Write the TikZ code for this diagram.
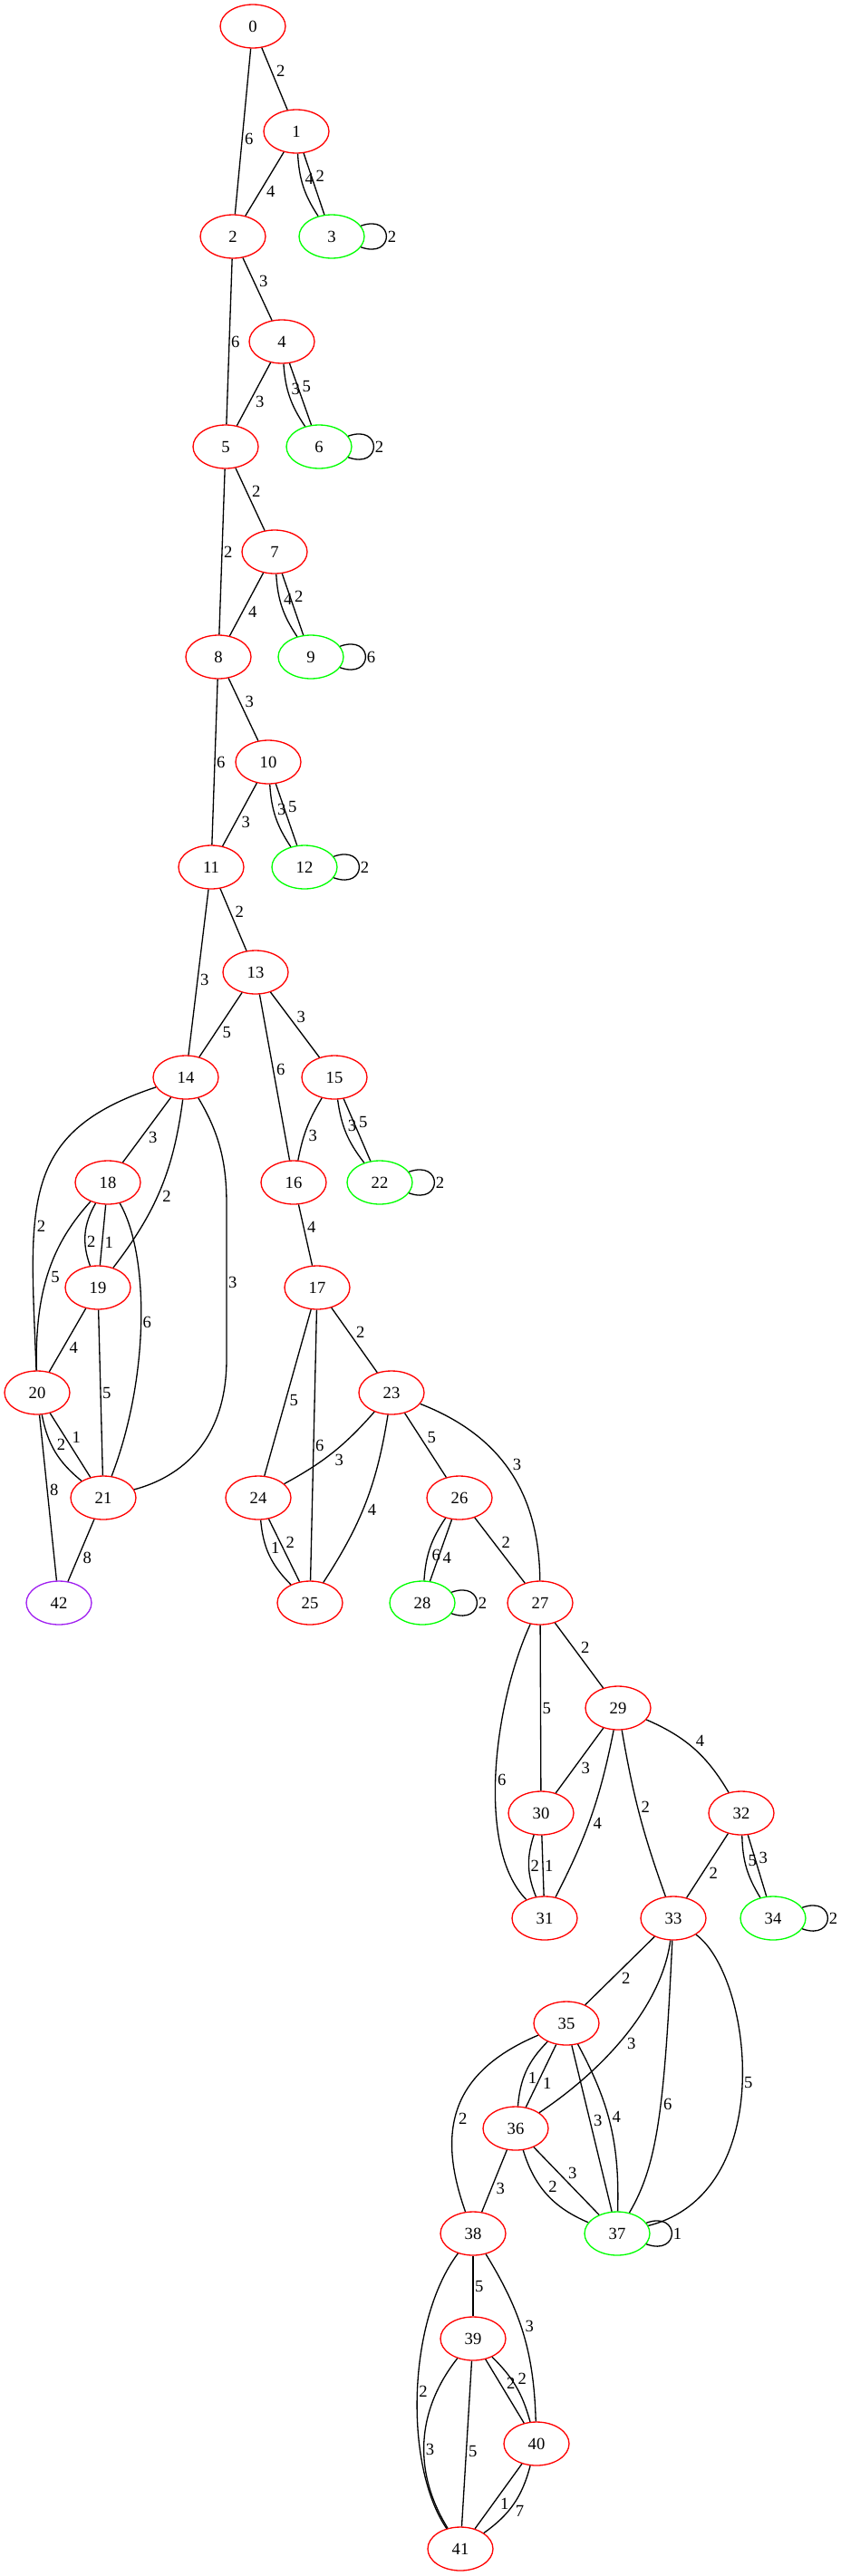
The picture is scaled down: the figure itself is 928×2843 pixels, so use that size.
\documentclass[tikz,border=0pt]{standalone}
\usepackage{fontspec}
\setmainfont{Liberation Serif}
\usetikzlibrary{shapes.geometric}
\definecolor{sinkpurple}{RGB}{160,32,240}

\begin{document}
\begin{tikzpicture}[x=0.02cm,y=-0.02cm,auto,line width=0.75pt,
    font=\fontsize{10.6}{12.7}\selectfont,
    every node/.style={inner sep=0.8pt},
    main node/.style={ellipse,draw,minimum width=1.44cm,minimum height=0.96cm,inner sep=0pt},
    red node/.style={main node,draw=red},
    green node/.style={main node,draw=green},
    sink node/.style={main node,draw=sinkpurple},
    self loop/.style={out=20,in=-20,min distance=8mm},
    loop label/.style={right,inner sep=0.5pt}]
   \useasboundingbox (0,0) rectangle (928,2843);
   % nodes, one rank every 116px
   \node[red node] (n0) at (279,29) {0};
   \node[red node] (n1) at (327,145) {1};
   \node[red node] (n2) at (257,261) {2};
   \node[green node] (n3) at (366,261) {3};
   \node[red node] (n4) at (311,377) {4};
   \node[red node] (n5) at (249,493) {5};
   \node[green node] (n6) at (352,493) {6};
   \node[red node] (n7) at (303,609) {7};
   \node[red node] (n8) at (241,725) {8};
   \node[green node] (n9) at (343,725) {9};
   \node[red node] (n10) at (296,841) {10};
   \node[red node] (n11) at (233,957) {11};
   \node[green node] (n12) at (336,957) {12};
   \node[red node] (n13) at (282,1073) {13};
   \node[red node] (n14) at (205,1189) {14};
   \node[red node] (n15) at (369,1189) {15};
   \node[red node] (n18) at (119,1305) {18};
   \node[red node] (n16) at (324,1305) {16};
   \node[green node] (n22) at (419,1305) {22};
   \node[red node] (n19) at (108,1421) {19};
   \node[red node] (n17) at (350,1421) {17};
   \node[red node] (n20) at (41,1537) {20};
   \node[red node] (n23) at (432,1537) {23};
   \node[red node] (n21) at (114,1653) {21};
   \node[red node] (n24) at (285,1653) {24};
   \node[red node] (n26) at (507,1653) {26};
   \node[sink node] (n42) at (65,1769) {42};
   \node[red node] (n25) at (342,1769) {25};
   \node[green node] (n28) at (466,1769) {28};
   \node[red node] (n27) at (596,1769) {27};
   \node[red node] (n29) at (682,1885) {29};
   \node[red node] (n30) at (597,2001) {30};
   \node[red node] (n32) at (818,2001) {32};
   \node[red node] (n31) at (601,2117) {31};
   \node[red node] (n33) at (743,2117) {33};
   \node[green node] (n34) at (853,2117) {34};
   \node[red node] (n35) at (625,2233) {35};
   \node[red node] (n36) at (569,2349) {36};
   \node[red node] (n38) at (522,2465) {38};
   \node[green node] (n37) at (681,2465) {37};
   \node[red node] (n39) at (522,2581) {39};
   \node[red node] (n40) at (592,2697) {40};
   \node[red node] (n41) at (508,2813) {41};
   % edges
   \draw (n0) -- node {2} (n1);
   \draw (n0) -- node {6} (n2);
   \draw (n1) -- node {4} (n2);
   \draw (n1) to[bend right=15] node {4} (n3);
   \draw (n1) -- node {2} (n3);
   \draw (n3) to[self loop] node[loop label] {2} (n3);
   \draw (n2) -- node {3} (n4);
   \draw (n2) -- node {6} (n5);
   \draw (n4) -- node {3} (n5);
   \draw (n4) to[bend right=15] node {3} (n6);
   \draw (n4) -- node {5} (n6);
   \draw (n6) to[self loop] node[loop label] {2} (n6);
   \draw (n5) -- node {2} (n7);
   \draw (n5) -- node {2} (n8);
   \draw (n7) -- node {4} (n8);
   \draw (n7) to[bend right=15] node {4} (n9);
   \draw (n7) -- node {2} (n9);
   \draw (n9) to[self loop] node[loop label] {6} (n9);
   \draw (n8) -- node {3} (n10);
   \draw (n8) -- node {6} (n11);
   \draw (n10) -- node {3} (n11);
   \draw (n10) to[bend right=15] node {3} (n12);
   \draw (n10) -- node {5} (n12);
   \draw (n12) to[self loop] node[loop label] {2} (n12);
   \draw (n11) -- node {2} (n13);
   \draw (n11) -- node {3} (n14);
   \draw (n13) -- node {5} (n14);
   \draw (n13) -- node {6} (n16);
   \draw (n13) -- node {3} (n15);
   \draw (n15) to[bend right=10] node {3} (n16);
   \draw (n15) to[bend right=15] node {3} (n22);
   \draw (n15) -- node {5} (n22);
   \draw (n22) to[self loop] node[loop label] {2} (n22);
   \draw (n16) -- node {4} (n17);
   % left block
   \draw (n14) -- node {3} (n18);
   \draw (n14) to[bend left=15] node {2} (n19);
   \draw (n14) .. controls (20,1250) and (33,1330) .. node[pos=0.62] {2} (n20);
   \draw (n14) .. controls (245,1255) and (250,1290) .. (250,1330)
      -- node {3} (250,1500) .. controls (250,1590) and (200,1630) .. (n21);
   \draw (n18) to[bend right=25] node {2} (n19);
   \draw (n18) -- node {1} (n19);
   \draw (n18) .. controls (60,1370) and (38,1420) .. node {5} (n20);
   \draw (n18) .. controls (165,1385) and (165,1520) .. node {6} (n21);
   \draw (n19) -- node {4} (n20);
   \draw (n19) -- node {5} (n21);
   \draw (n20) to[bend right=20] node {2} (n21);
   \draw (n20) -- node {1} (n21);
   \draw (n20) -- node {8} (n42);
   \draw (n21) -- node {8} (n42);
   % middle block
   \draw (n17) -- node {5} (n24);
   \draw (n17) -- node {6} (n25);
   \draw (n17) -- node {2} (n23);
   \draw (n23) to[bend left=10] node {3} (n24);
   \draw (n23) to[bend left=12] node {4} (n25);
   \draw (n23) -- node {5} (n26);
   \draw (n23) .. controls (555,1585) and (595,1650) .. node {3} (n27);
   \draw (n24) to[bend right=20] node {1} (n25);
   \draw (n24) -- node {2} (n25);
   \draw (n26) to[bend right=15] node {6} (n28);
   \draw (n26) -- node {4} (n28);
   \draw (n28) to[self loop] node[loop label] {2} (n28);
   \draw (n26) -- node {2} (n27);
   \draw (n27) .. controls (545,1880) and (525,2040) .. node {6} (n31);
   \draw (n27) -- node {5} (n30);
   \draw (n27) -- node {2} (n29);
   \draw (n29) -- node {3} (n30);
   \draw (n29) to[bend left=8] node {4} (n31);
   \draw (n29) to[bend right=5] node {2} (n33);
   \draw (n29) to[bend left=18] node {4} (n32);
   \draw (n30) to[bend right=20] node {2} (n31);
   \draw (n30) -- node {1} (n31);
   \draw (n32) -- node {2} (n33);
   \draw (n32) to[bend right=15] node {5} (n34);
   \draw (n32) -- node {3} (n34);
   \draw (n34) to[self loop] node[loop label] {2} (n34);
   % bottom block
   \draw (n33) -- node {2} (n35);
   \draw (n33) .. controls (730,2215) and (665,2285) .. node {3} (n36);
   \draw (n33) .. controls (733,2330) and (725,2390) .. node[pos=0.4] {6} (n37);
   \draw (n33) .. controls (830,2180) and (860,2420) .. node {5} (n37);
   \draw (n35) to[bend right=20] node {1} (n36);
   \draw (n35) -- node {1} (n36);
   \draw (n35) -- node {3} (n37);
   \draw (n35) to[bend left=15] node {4} (n37);
   \draw (n35) .. controls (490,2290) and (485,2360) .. node {2} (n38);
   \draw (n36) -- node {3} (n38);
   \draw (n36) to[bend right=25] node {2} (n37);
   \draw (n36) -- node {3} (n37);
   \draw (n37) to[self loop] node[loop label] {1} (n37);
   \draw (n38) -- node {5} (n39);
   \draw (n38) to[bend left=15] node {3} (n40);
   \draw (n38) .. controls (450,2560) and (445,2720) .. node {2} (n41);
   \draw (n39) -- node {2} (n40);
   \draw (n39) to[bend left=15] node {2} (n40);
   \draw (n39) to[bend right=35] node {3} (n41);
   \draw (n39) -- node {5} (n41);
   \draw (n40) -- node {1} (n41);
   \draw (n40) to[bend left=20] node {7} (n41);
\end{tikzpicture}
\end{document}
